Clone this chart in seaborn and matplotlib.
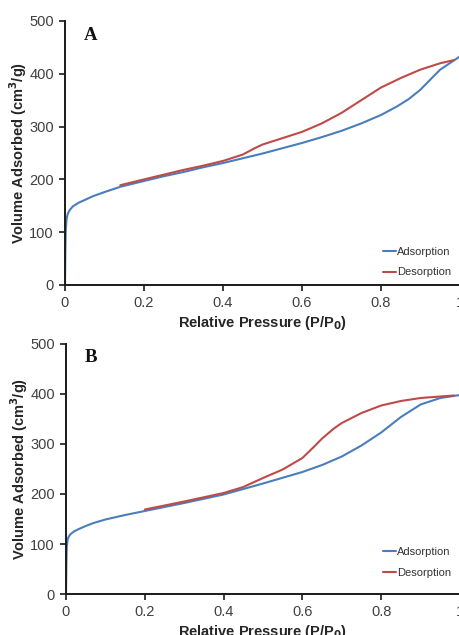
import numpy as np
import pandas as pd
import seaborn as sns
import matplotlib
matplotlib.use("Agg")
import matplotlib.pyplot as plt

# Isotherm A
a_ads_p = [0.0, 0.001, 0.002, 0.004, 0.007, 0.012, 0.02, 0.035, 0.05, 0.07, 0.1, 0.14, 0.2, 0.25, 0.3,
           0.35, 0.4, 0.45, 0.5, 0.55, 0.6, 0.65, 0.7, 0.75, 0.8, 0.84, 0.87, 0.9, 0.93, 0.95, 0.98, 1.0]
a_ads_v = [0, 70, 105, 125, 135, 142, 149, 156, 161, 168, 176, 186, 197, 206, 214,
           223, 231, 240, 249, 259, 269, 280, 292, 306, 322, 338, 352, 370, 393, 408, 423, 433]
a_des_p = [0.14, 0.2, 0.25, 0.3, 0.35, 0.4, 0.45, 0.48, 0.5, 0.55, 0.6, 0.65, 0.7, 0.75, 0.8,
           0.85, 0.9, 0.95, 0.985]
a_des_v = [189, 200, 209, 218, 226, 235, 247, 259, 266, 278, 290, 306, 326, 350, 374,
           392, 408, 420, 426]

# Isotherm B
b_ads_p = [0.0, 0.001, 0.002, 0.004, 0.007, 0.012, 0.02, 0.03, 0.05, 0.07, 0.1, 0.15, 0.2, 0.3, 0.4,
           0.5, 0.6, 0.65, 0.7, 0.75, 0.8, 0.85, 0.9, 0.95, 1.0]
b_ads_v = [0, 60, 95, 108, 115, 120, 125, 129, 136, 142, 149, 158, 166, 182, 199,
           221, 244, 258, 275, 297, 323, 354, 379, 392, 398]
b_des_p = [0.2, 0.3, 0.4, 0.45, 0.5, 0.55, 0.6, 0.63, 0.65, 0.68, 0.7, 0.75, 0.8, 0.85, 0.9,
           0.95, 0.985]
b_des_v = [169, 185, 202, 214, 232, 249, 272, 295, 311, 331, 342, 362, 377, 386, 392,
           395, 397]

series_labels = ["Adsorption", "Desorption"]
panel_letters = ["A", "B"]
x_ticks = [0, 0.2, 0.4, 0.6, 0.8, 1.0]
x_tick_labels = ["0", "0.2", "0.4", "0.6", "0.8", "1"]
y_ticks = [0, 100, 200, 300, 400, 500]

sns.set_style("ticks")
plt.rcParams["font.family"] = ["Liberation Sans", "DejaVu Sans"]

colors = {"Adsorption": "#4a7ebb", "Desorption": "#be4b48"}


def make_frame(ads_p, ads_v, des_p, des_v):
    frames = [
        pd.DataFrame({"p": ads_p, "v": ads_v, "branch": series_labels[0]}),
        pd.DataFrame({"p": des_p, "v": des_v, "branch": series_labels[1]}),
    ]
    return pd.concat(frames, ignore_index=True)


data = [
    make_frame(a_ads_p, a_ads_v, a_des_p, a_des_v),
    make_frame(b_ads_p, b_ads_v, b_des_p, b_des_v),
]

fig = plt.figure(figsize=(4.6, 6.35), dpi=100)
axes = [
    fig.add_axes([65 / 460, 1 - 285 / 635, 395 / 460, 264 / 635]),
    fig.add_axes([66 / 460, 1 - 594 / 635, 394 / 460, 250 / 635]),
]
legend_anchor_y = [-0.005, 0.03]

tick_color = "#404040"
for ax, df, letter, ly in zip(axes, data, panel_letters, legend_anchor_y):
    sns.lineplot(data=df, x="p", y="v", hue="branch", palette=colors,
                 estimator=None, sort=False, linewidth=1.5, ax=ax)
    ax.set_xlim(0, 1)
    ax.set_ylim(0, 500)
    ax.set_xticks(x_ticks)
    ax.set_xticklabels(x_tick_labels)
    ax.set_yticks(y_ticks)
    ax.tick_params(axis="both", labelsize=10.5, colors="#1a1a1a", labelcolor=tick_color,
                   length=4, width=1.2, pad=4)
    sns.despine(ax=ax)
    for s in ("left", "bottom"):
        ax.spines[s].set_linewidth(1.4)
        ax.spines[s].set_color("#1a1a1a")
    ax.set_xlabel("Relative Pressure (P/P$_\\mathbf{0}$)", fontsize=10.5,
                  fontweight="bold", color="#262626", labelpad=3)
    ax.set_ylabel("Volume Adsorbed (cm$^\\mathbf{3}$/g)", fontsize=10.5,
                  fontweight="bold", color="#262626", labelpad=0)
    ax.text(0.047, 0.978, letter, transform=ax.transAxes, fontsize=13.5,
            fontweight="bold", family="Liberation Serif", va="top", ha="left",
            color="#111111")
    leg = ax.legend(loc="lower right", frameon=False, fontsize=8,
                    handlelength=1.15, handletextpad=0.1, labelspacing=0.95,
                    borderaxespad=0.4, bbox_to_anchor=(1.0, ly))
    for t in leg.get_texts():
        t.set_color("#333333")
    for line in leg.get_lines():
        line.set_linewidth(1.5)

fig.savefig("out.png", dpi=100)
